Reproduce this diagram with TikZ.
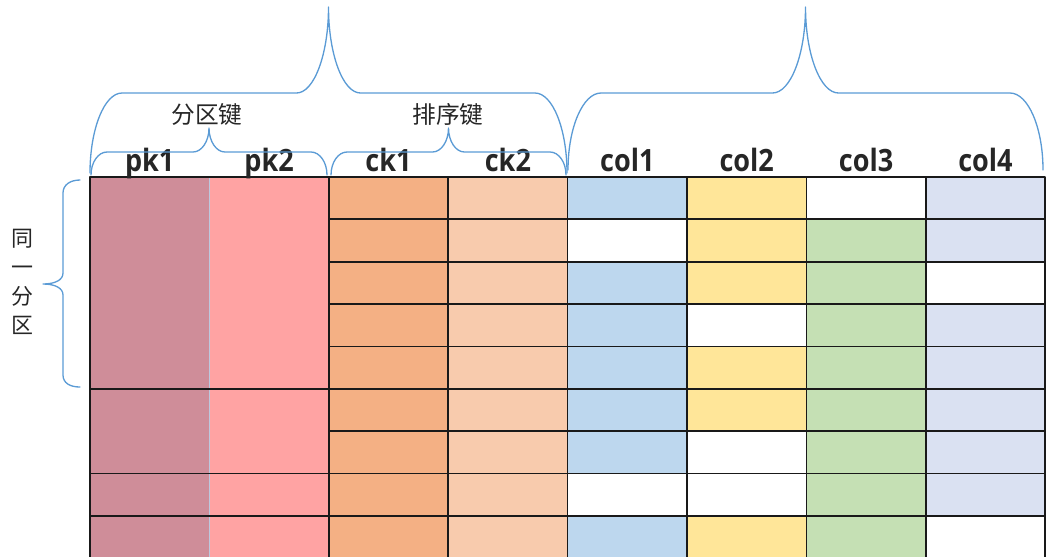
\documentclass[tikz,border=0pt]{standalone}
\usepackage{fontspec}
\newfontfamily\cjk{Noto Sans CJK SC}
\newfontfamily\hdrfont[FakeStretch=0.88]{Open Sans}
\definecolor{pka}{HTML}{CF8D99}
\definecolor{pkb}{HTML}{FFA3A3}
\definecolor{cka}{HTML}{F4B084}
\definecolor{ckb}{HTML}{F8CBAD}
\definecolor{cb}{HTML}{BDD7EE}
\definecolor{cy}{HTML}{FFE699}
\definecolor{cg}{HTML}{C5E0B4}
\definecolor{cl}{HTML}{DAE1F2}
\definecolor{pkline}{HTML}{BCC8DE}
\definecolor{bracec}{HTML}{5B9BD5}
\definecolor{txt}{HTML}{262626}
\newcommand{\colw}{119.4}
\newcommand{\rowh}{42.35}
\newcommand{\topbrace}[6]{\draw[brace] (#1,#3) .. controls (#1,{#4+0.45*(#3-#4)}) and ({#1+0.45*#6},#4) .. ({#1+#6},#4) -- ({(#1+#2)/2-#6},#4) .. controls ({(#1+#2)/2-0.45*#6},#4) and ({(#1+#2)/2},{#5+0.55*(#4-#5)}) .. ({(#1+#2)/2},#5) .. controls ({(#1+#2)/2},{#5+0.55*(#4-#5)}) and ({(#1+#2)/2+0.45*#6},#4) .. ({(#1+#2)/2+#6},#4) -- ({#2-#6},#4) .. controls ({#2-0.45*#6},#4) and (#2,{#4+0.45*(#3-#4)}) .. (#2,#3);}
\begin{document}
\begin{tikzpicture}[x=0.02cm, y=-0.02cm, line join=round, line cap=round,
		brace/.style={draw=bracec, line width=0.75pt},
		cell/.style={draw=black!90, line width=1pt},
		hdr/.style={anchor=base, text=txt, font=\hdrfont\bfseries\fontsize{17.5}{20}\selectfont},
		cjklab/.style={text=txt, font=\cjk\fontsize{13.5}{16.4}\selectfont}]
	\useasboundingbox (0,0) rectangle (1047,556);
	\clip (0,0) rectangle (1047,556);
	\fill[pka] (90,177) rectangle ({90+\colw},560);
	\fill[pkb] ({90+\colw},177) rectangle ({90+2*\colw},560);
	\foreach \r/\ca/\cb/\cc/\cd in {0/cb/cy/white/cl, 1/white/cy/cg/cl, 2/cb/cy/cg/white, 3/cb/white/cg/cl, 4/cb/cy/cg/cl, 5/cb/cy/cg/cl, 6/cb/white/cg/cl, 7/white/white/cg/cl, 8/cb/cy/cg/white}{
		\draw[cell,fill=cka] ({90+2*\colw},{177+\r*\rowh}) rectangle ++(\colw,\rowh);
		\draw[cell,fill=ckb] ({90+3*\colw},{177+\r*\rowh}) rectangle ++(\colw,\rowh);
		\draw[cell,fill=\ca] ({90+4*\colw},{177+\r*\rowh}) rectangle ++(\colw,\rowh);
		\draw[cell,fill=\cb] ({90+5*\colw},{177+\r*\rowh}) rectangle ++(\colw,\rowh);
		\draw[cell,fill=\cc] ({90+6*\colw},{177+\r*\rowh}) rectangle ++(\colw,\rowh);
		\draw[cell,fill=\cd] ({90+7*\colw},{177+\r*\rowh}) rectangle ++(\colw,\rowh);
	}
	\draw[line width=1pt, pkline] ({90+\colw},177)--({90+\colw},560);
	\draw[cell] (90,560)--(90,177)--({90+2*\colw},177);
	\foreach \r in {5,7,8} \draw[cell] (90,{177+\r*\rowh})--++({2*\colw},0);
	\foreach \t [count=\i from 0] in {pk1,pk2,ck1,ck2,col1,col2,col3,col4}
		\node[hdr] (h\i) at ({90+(\i+0.5)*\colw},171) {\t};
	\topbrace{91}{327}{175}{152}{128}{16}
	\topbrace{331}{566}{175}{152}{128}{16}
	\topbrace{90}{567}{173}{93}{7}{32}
	\topbrace{568}{1043}{170}{93}{7}{33}
	\draw[brace] (80,180) .. controls (70,180) and (63,185) .. (63,193) -- (63,273) .. controls (63,280) and (55,284) .. (43,284) .. controls (55,284) and (63,288) .. (63,295) -- (63,375) .. controls (63,383) and (70,387) .. (80,387);
	\node[cjklab] (pkkey) at (207,114) {分区键};
	\node[cjklab] (ckkey) at (448,114) {排序键};
	\node[cjklab, align=center, font=\cjk\fontsize{12.5}{16.4}\selectfont] (samepart) at (22,282) {同\\一\\分\\区};
\end{tikzpicture}
\end{document}
